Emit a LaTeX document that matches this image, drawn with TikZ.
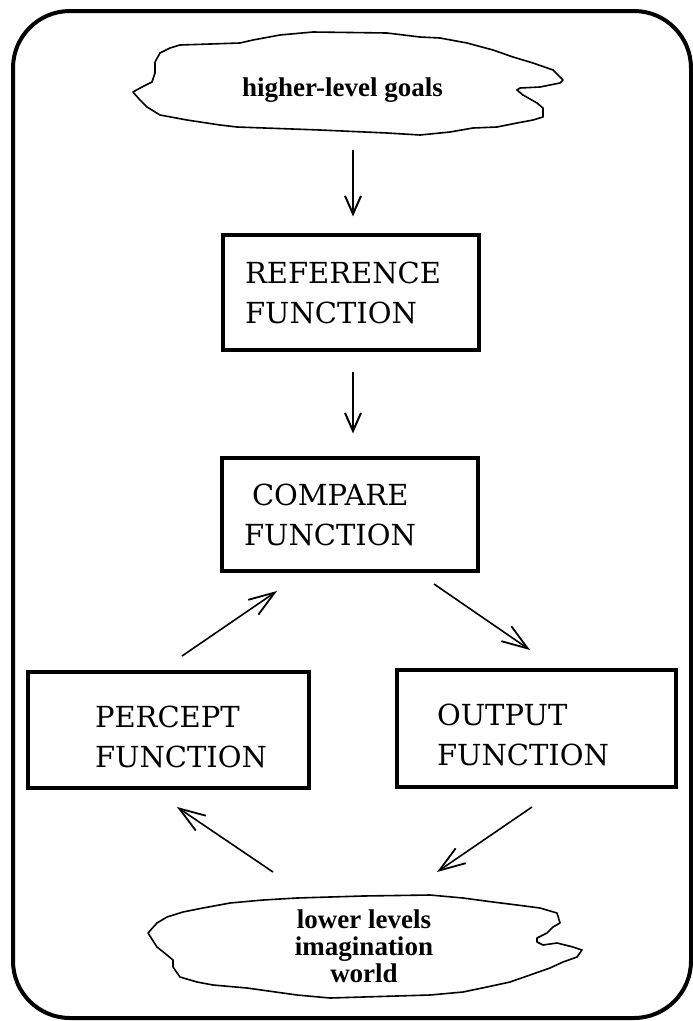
\documentclass[tikz,border=0pt]{standalone}
\usepackage{fontspec}
\newfontfamily\cloudfont{Liberation Serif}
\newfontfamily\boxfont{DejaVu Serif}
\usetikzlibrary{arrows.meta,calc}
\begin{document}
\begin{tikzpicture}[x=1pt,y=-1pt,
  boxnode/.style={draw,line width=3.2pt,inner sep=0pt,font=\boxfont\fontsize{29}{40}\selectfont,align=left},
  cloudtext/.style={font=\cloudfont\bfseries\fontsize{27}{27}\selectfont,align=center,inner sep=0pt},
  cloudline/.style={line width=1.6pt,line join=round},
  varr/.style={line width=2pt,-{Straight Barb[length=18pt,width=16pt,line width=2pt]}},
  darr/.style={line width=1.6pt,-{Straight Barb[length=26pt,width=18pt,line width=1.8pt]}}]
\useasboundingbox (0,0) rectangle (693,1021);
% outer frame
\draw[line width=4pt,rounded corners=57pt] (13,11) rectangle (691,1018);
% top cloud
\draw[cloudline] (133,92) -- (142,87) -- (152,82) -- (155,73) -- (155,62) -- (160,53) -- (170,48) -- (180,45)
  -- (240,43) -- (253,40) -- (280,35) -- (313,32) -- (387,33) -- (420,37) -- (440,38) -- (467,43) -- (493,50)
  -- (513,57) -- (533,63) -- (553,70) -- (563,80) -- (560,83) -- (540,87) -- (520,88) -- (517,90) -- (523,95)
  -- (537,103) -- (543,108) -- (543,117) -- (533,120) -- (517,123) -- (497,127) -- (473,128) -- (450,132)
  -- (420,135) -- (387,133) -- (320,130) -- (237,127) -- (220,125) -- (187,120) -- (160,115) -- (147,107)
  -- (140,100) -- cycle;
\node[cloudtext] (goals) at (342.5,90) {higher-level goals};
% bottom cloud
\draw[cloudline] (148,933) -- (157,923) -- (167,917) -- (183,912) -- (203,908) -- (230,903) -- (263,900)
  -- (297,898) -- (363,896) -- (430,895) -- (463,898) -- (493,902) -- (517,905) -- (540,908) -- (557,913)
  -- (560,923) -- (553,927) -- (547,933) -- (537,938) -- (537,942) -- (543,945) -- (557,943) -- (573,947)
  -- (582,950) -- (577,957) -- (563,962) -- (550,968) -- (530,975) -- (510,982) -- (487,987) -- (463,992)
  -- (430,995) -- (363,997) -- (330,998) -- (297,995) -- (247,988) -- (213,985) -- (197,982) -- (180,977)
  -- (173,967) -- (173,960) -- (167,955) -- (157,947) -- cycle;
\node[cloudtext] (world) at (364,946) {lower levels\\imagination\\world};
% boxes
\node[boxnode,minimum width=256pt,minimum height=115pt,text width=212pt] (ref) at (351,292.5) {REFERENCE\\FUNCTION};
\node[boxnode,minimum width=256pt,minimum height=113pt,text width=212pt] (cmp) at (350,514.5) {\hspace*{8pt}COMPARE\\FUNCTION};
\node[boxnode,minimum width=281pt,minimum height=116pt,text width=147pt] (per) at (168.5,730) {\rule{0pt}{35pt}PERCEPT\\FUNCTION};
\node[boxnode,minimum width=279pt,minimum height=117pt,text width=199pt] (out) at (536.5,728.5) {\rule{0pt}{35pt}OUTPUT\\FUNCTION};
% connectors
\draw[varr,shorten <=47pt,shorten >=17pt] (goals.south -| 353,0) -- (ref.north -| 353,0);
\draw[varr,shorten <=20pt,shorten >=23pt] (ref.south -| 353,0) -- (cmp.north -| 353,0);
\coordinate (pa) at (182,656);
\coordinate (pb) at (277,591);
\coordinate (ca) at (434,584);
\coordinate (cb) at (530,650);
\coordinate (wa) at (532,807);
\coordinate (wb) at (437,872);
\coordinate (va) at (273,872);
\coordinate (vb) at (177,807);
\draw[darr] (pa) -- (pb);
\draw[darr] (ca) -- (cb);
\draw[darr] (wa) -- (wb);
\draw[darr] (va) -- (vb);
\end{tikzpicture}
\end{document}
